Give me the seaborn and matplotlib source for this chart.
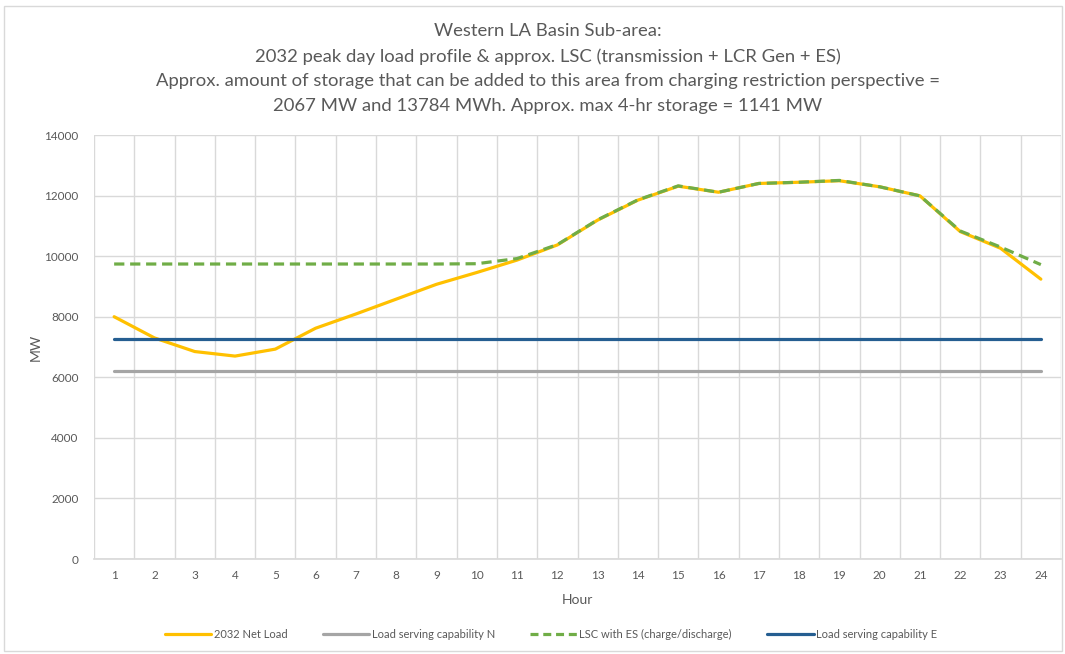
import matplotlib
matplotlib.use("Agg")
import matplotlib.pyplot as plt
from matplotlib.patches import Rectangle
import numpy as np
import pandas as pd
import seaborn as sns

hours = list(range(1, 25))
net_load = [8000, 7300, 6850, 6700, 6930, 7620, 8090, 8580, 9070, 9460,
            9870, 10370, 11190, 11850, 12310, 12110, 12400, 12440, 12490, 12290,
            11990, 10810, 10260, 9240]
lsc_n = [6220] * 24
lsc_with_es = [9740, 9740, 9740, 9740, 9740, 9740, 9740, 9740, 9740, 9750,
               9920, 10380, 11200, 11860, 12320, 12110, 12400, 12440, 12500, 12290,
               11990, 10830, 10300, 9720]
lsc_e = [7260] * 24

series_names = ["2032 Net Load", "Load serving capability N",
                "LSC with ES (charge/discharge)", "Load serving capability E"]
colors = ["#FFC000", "#A5A5A5", "#70AD47", "#255E91"]

df = pd.DataFrame({"Hour": hours * 4,
                   "MW": net_load + lsc_n + lsc_with_es + lsc_e,
                   "Series": np.repeat(series_names, 24)})

sns.set_theme(style="white")
plt.rcParams["font.family"] = ["Lato", "DejaVu Sans"]

fig = plt.figure(figsize=(10.65, 6.54), dpi=100)
ax = fig.add_axes([94 / 1065, 1 - 559 / 654, (1061 - 94) / 1065, (559 - 135) / 654])

sns.lineplot(data=df, x="Hour", y="MW", hue="Series", style="Series",
             palette=dict(zip(series_names, colors)),
             dashes={series_names[0]: "", series_names[1]: "",
                     series_names[2]: (3.2, 1.8), series_names[3]: ""},
             linewidth=2.3, ax=ax, legend=False, zorder=3)

ax.set_xlim(0.5, 24.5)
ax.set_ylim(0, 14000)
ax.set_xticks(hours)
ax.set_xticks(np.arange(0.5, 25, 1), minor=True)
ax.set_yticks(np.arange(0, 14001, 2000))
ax.tick_params(axis="both", which="both", length=0, labelsize=8.5, colors="#595959")
ax.tick_params(axis="y", pad=11)
ax.tick_params(axis="x", pad=8)
ax.grid(False)
ax.grid(True, axis="y", which="major", color="#D9D9D9", linewidth=1)
ax.grid(True, axis="x", which="minor", color="#D9D9D9", linewidth=1)
for s in ["top", "right", "left"]:
    ax.spines[s].set_visible(False)
ax.spines["bottom"].set_color("#D9D9D9")
ax.set_xlabel("Hour", fontsize=10, color="#595959", labelpad=9)
ax.set_ylabel("MW", fontsize=10, color="#595959", labelpad=2)

title = ("Western LA Basin Sub-area:\n"
         "2032 peak day load profile & approx. LSC (transmission + LCR Gen + ES)\n"
         "Approx. amount of storage that can be added to this area from charging restriction perspective =\n"
         "2067 MW and 13784 MWh. Approx. max 4-hr storage = 1141 MW")
fig.text(548 / 1065, 1 - 23 / 654, title, ha="center", va="top", fontsize=13.3,
         color="#595959", linespacing=1.66)

handles = []
for name, c in zip(series_names, colors):
    ls = (0, (2.5, 1.5)) if "ES" in name else "-"
    handles.append(plt.Line2D([], [], color=c, lw=2.3, linestyle=ls))
fig.legend(handles, series_names, loc="center", bbox_to_anchor=(551 / 1065, 1 - 634 / 654),
           ncol=4, frameon=False, fontsize=8, handlelength=4.2, columnspacing=3.2,
           handletextpad=0.2, labelcolor="#595959")

fig.patches.append(Rectangle((4 / 1065, 3 / 654), 1058 / 1065, 645 / 654,
                             transform=fig.transFigure, fill=False,
                             edgecolor="#D9D9D9", linewidth=1))

fig.savefig("out.png", dpi=100)
